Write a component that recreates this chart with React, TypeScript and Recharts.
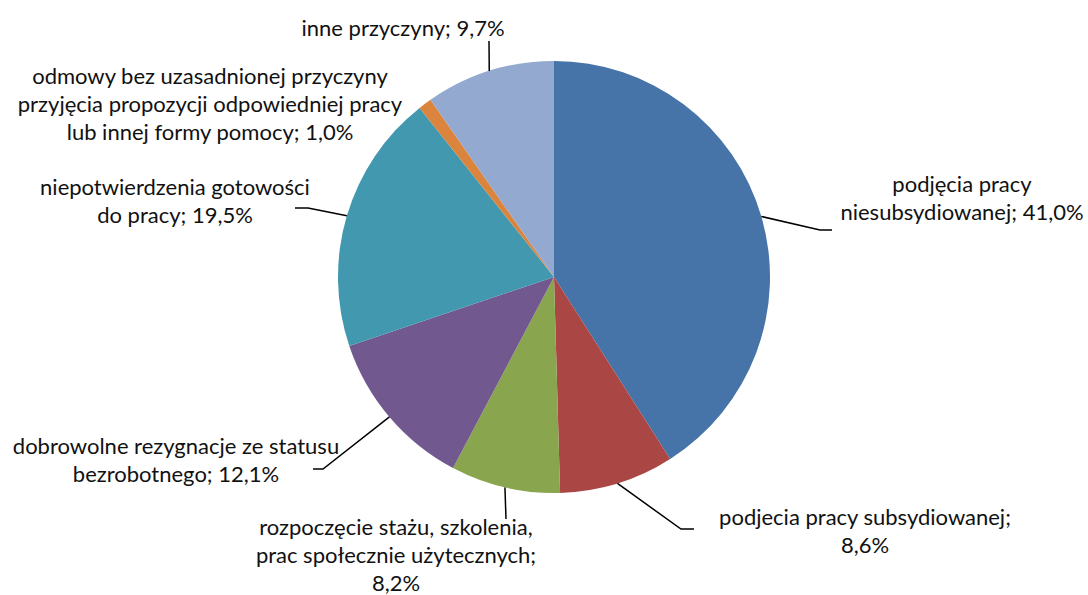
import React from "react";
import { PieChart, Pie, Cell } from "recharts";

// categories and shares (%) in pie order, clockwise from 12 o'clock
const categories = [
  "podjęcia pracy niesubsydiowanej",
  "podjecia pracy subsydiowanej",
  "rozpoczęcie stażu, szkolenia, prac społecznie użytecznych",
  "dobrowolne rezygnacje ze statusu bezrobotnego",
  "niepotwierdzenia gotowości do pracy",
  "odmowy bez uzasadnionej przyczyny przyjęcia propozycji odpowiedniej pracy lub innej formy pomocy",
  "inne przyczyny",
];
const shares = [41.0, 8.6, 8.2, 12.1, 19.5, 1.0, 9.7];
const colors = ["#4673A8", "#AA4744", "#89A54E", "#71588F", "#4198AF", "#DB843D", "#93A9CF"];

// words per label line
const lineBreaks = [[2, 2], [3, 1], [3, 3, 1], [4, 2], [2, 3], [4, 4, 5], [3]];

// label placement: text centre x, first line centre y, leader elbow/end (null = no leader)
const labelLayout = [
  { x: 962, y: 185, elbow: [820, 230], end: [832, 230] },
  { x: 865, y: 518, elbow: [681, 529], end: [694, 529] },
  { x: 396, y: 528, elbow: [506, 519], end: [506, 519] },
  { x: 176, y: 447, elbow: [323, 469], end: [313, 469] },
  { x: 175, y: 188, elbow: [308, 208], end: [295, 208] },
  { x: 210, y: 77, elbow: null, end: null },
  { x: 403, y: 29, elbow: [489, 41], end: [489, 41] },
];

const FONT = "Lato, 'Open Sans', sans-serif";
const FONT_SIZE = 22;
const LINE_H = 28;
const RAD = Math.PI / 180;

const data = categories.map((name, i) => ({ name, value: shares[i] }));

const fmt = (v: number) => v.toFixed(1).replace(".", ",") + "%";

function splitLines(text: string, counts: number[]) {
  const words = text.split(" ");
  const out: string[] = [];
  let k = 0;
  counts.forEach((c) => {
    out.push(words.slice(k, k + c).join(" "));
    k += c;
  });
  return out;
}

const SliceLabel = (props: any) => {
  const { cx, cy, midAngle, outerRadius, index } = props;
  const lay = labelLayout[index];
  const full = `${categories[index]}; ${fmt(shares[index])}`;
  const lines = splitLines(full, lineBreaks[index]);
  const sx = cx + outerRadius * Math.cos(-midAngle * RAD);
  const sy = cy + outerRadius * Math.sin(-midAngle * RAD);
  return (
    <g>
      {lay.elbow && (
        <polyline
          points={`${sx},${sy} ${lay.elbow[0]},${lay.elbow[1]} ${lay.end[0]},${lay.end[1]}`}
          fill="none"
          stroke="#000"
          strokeWidth={1.5}
        />
      )}
      <text
        x={lay.x}
        y={lay.y + FONT_SIZE * 0.34}
        textAnchor="middle"
        fill="#111"
        fontFamily={FONT}
        fontSize={FONT_SIZE}
      >
        {lines.map((ln, j) => (
          <tspan key={j} x={lay.x} dy={j === 0 ? 0 : LINE_H}>
            {ln}
          </tspan>
        ))}
      </text>
    </g>
  );
};

export default function App() {
  return (
    <div style={{ position: "absolute", left: 0, top: 0, background: "#fff" }}>
      <PieChart width={1088} height={595} margin={{ top: 0, right: 0, bottom: 0, left: 0 }}>
        <Pie
          data={data}
          dataKey="value"
          nameKey="name"
          cx={554}
          cy={277}
          outerRadius={216}
          startAngle={90}
          endAngle={-270}
          stroke="none"
          label={SliceLabel}
          labelLine={false}
          isAnimationActive={false}
        >
          {data.map((d, i) => (
            <Cell key={d.name} fill={colors[i]} />
          ))}
        </Pie>
      </PieChart>
    </div>
  );
}
